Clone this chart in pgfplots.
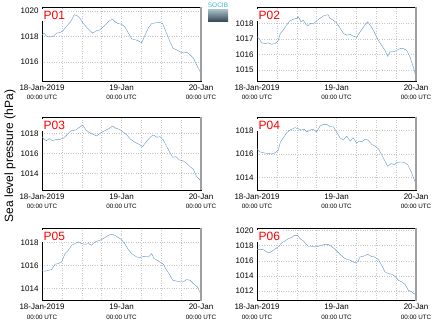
\documentclass[border=0pt]{standalone}
\usepackage{pgfplots}
\pgfplotsset{compat=1.18}
\usepackage{fontspec}
\setmainfont{Liberation Sans}
\definecolor{sl}{RGB}{96,148,198}
\definecolor{socib}{RGB}{60,180,210}
\definecolor{logotop}{RGB}{175,195,205}
\definecolor{logobot}{RGB}{55,75,90}
\pgfplotsset{
  panel/.style={
    scale only axis, width=159pt,
    xmin=0, xmax=48,
    xtick={0,24,48}, minor xtick={6,12,18,30,36,42},
    xticklabels={18-Jan-2019\\{\fontsize{6.3}{7}\selectfont 00:00 UTC},
                 19-Jan\\{\fontsize{6.3}{7}\selectfont 00:00 UTC},
                 20-Jan\\{\fontsize{6.3}{7}\selectfont 00:00 UTC}},
    xticklabel style={align=center, font=\fontsize{8}{9.5}\selectfont},
    yticklabel style={font=\fontsize{8}{9}\selectfont, /pgf/number format/1000 sep={}},
    /pgf/number format/assume math mode=true,
    xmajorgrids, xminorgrids, ymajorgrids,
    grid style={dotted, gray!45, line width=0.5pt},
    minor grid style={dotted, gray!45, line width=0.5pt},
    tick style={draw=none},
    axis line style={black, line width=0.8pt},
    cycle list={{sl, line width=1pt, mark=none}},
    after end axis/.code={\draw[gray!75, line width=1.6pt] (rel axis cs:1,0) -- (rel axis cs:1,1);},
    anchor=north west,
  }
}
\tikzset{plabel/.style={anchor=north west, fill=white, inner sep=1.5pt, text=red, font=\fontsize{12}{12}\selectfont, yshift=-2pt}}
\begin{document}
\begin{tikzpicture}
\useasboundingbox (0,0) rectangle (435pt,-327pt);
% P01
\begin{axis}[panel, at={(42pt,-7pt)}, height=74pt, ymin=1014.5, ymax=1020.3, ytick={1016,1018,1020}]
\addplot coordinates {(0,1018.1)(0.6,1018.25)(1.4,1018.0)(2.4,1017.95)(3.4,1018.0)(4.4,1018.25)(5.4,1018.3)(6.4,1018.45)(7.4,1018.8)(8.5,1019.1)(9.0,1019.3)(9.7,1019.7)(10.7,1019.6)(11.5,1019.4)(12.5,1019.0)(13.7,1018.65)(15.3,1018.25)(16.5,1018.45)(17.5,1018.5)(18.5,1018.75)(19.5,1019.0)(20.5,1019.25)(21.3,1019.35)(22.0,1019.15)(23.0,1019.0)(24.0,1018.95)(25.0,1018.75)(26.1,1018.25)(27.1,1017.8)(28.6,1017.7)(30.1,1017.5)(31.1,1018.1)(32.1,1018.65)(33.1,1019.0)(34.1,1019.05)(35.4,1019.1)(36.4,1019.0)(37.6,1018.25)(38.6,1017.6)(39.6,1017.05)(40.6,1016.95)(41.6,1016.8)(42.7,1016.7)(43.7,1016.75)(44.7,1016.55)(45.7,1016.3)(46.7,1015.75)(47.7,1015.25)(48,1015.0)};
\node[plabel] at (rel axis cs:0,1) {P01};
\end{axis}
% P02
\begin{axis}[panel, at={(257pt,-7pt)}, height=74pt, ymin=1014.3, ymax=1019.05, ytick={1015,1016,1017,1018}]
\addplot coordinates {(0,1017.14)(0.6,1017.03)(1.4,1016.75)(2.4,1016.7)(3.4,1016.75)(4.4,1016.66)(5.4,1016.7)(6.4,1016.88)(7.0,1017.35)(7.95,1017.57)(8.96,1017.9)(9.96,1018.17)(10.97,1018.26)(11.97,1018.32)(12.48,1018.43)(13.28,1018.1)(13.99,1018.2)(14.69,1017.96)(15.3,1017.83)(16.0,1018.0)(17.0,1017.96)(18.0,1018.17)(19.0,1018.32)(20.0,1018.47)(21.0,1018.54)(21.5,1018.54)(22.0,1018.32)(23.0,1018.2)(24.0,1018.04)(25.1,1017.68)(26.1,1017.35)(27.1,1017.24)(28.1,1017.3)(29.1,1017.18)(30.1,1017.1)(30.8,1017.35)(31.6,1017.6)(32.6,1017.9)(33.4,1018.1)(34.1,1017.9)(34.8,1017.68)(35.6,1017.35)(36.6,1016.92)(37.6,1016.6)(38.6,1016.27)(39.45,1015.88)(40.15,1016.17)(41.16,1016.17)(42.16,1016.27)(43.17,1016.38)(44.18,1016.38)(45.18,1016.27)(46.19,1015.84)(47.19,1015.2)(48,1014.55)};
\node[plabel] at (rel axis cs:0,1) {P02};
\end{axis}
% P03
\begin{axis}[panel, at={(42pt,-117pt)}, height=73pt, ymin=1012.33, ymax=1019.63, ytick={1014,1016,1018}]
\addplot coordinates {(0,1017.67)(0.6,1017.4)(1.4,1017.27)(2.2,1017.47)(3.2,1017.27)(4.4,1017.4)(5.4,1017.4)(6.4,1017.5)(7.0,1017.67)(7.95,1018.0)(8.96,1018.27)(10.26,1018.33)(11.27,1018.6)(12.28,1018.83)(13.28,1018.33)(14.29,1018.07)(15.3,1017.93)(16.5,1017.73)(17.5,1018.0)(19.0,1018.27)(20.33,1018.5)(21.33,1018.73)(22.34,1018.5)(23.35,1018.4)(24.35,1018.17)(25.56,1017.83)(26.77,1017.4)(28.08,1017.1)(29.08,1016.93)(30.39,1016.67)(31.09,1017.0)(32.1,1017.4)(33.11,1017.73)(33.81,1017.83)(34.62,1017.6)(35.62,1017.67)(36.63,1017.33)(37.64,1016.67)(38.64,1016.07)(39.45,1015.6)(40.45,1015.67)(41.46,1015.33)(42.47,1015.27)(43.67,1015.0)(44.68,1014.67)(45.69,1014.4)(46.69,1013.67)(47.7,1013.33)(48,1013.07)};
\node[plabel] at (rel axis cs:0,1) {P03};
\end{axis}
% P04
\begin{axis}[panel, at={(257pt,-117pt)}, height=73pt, ymin=1012.92, ymax=1019.14, ytick={1014,1016,1018}]
\addplot coordinates {(0,1016.43)(0.91,1016.17)(1.91,1016.09)(3.22,1016.03)(4.43,1016.0)(5.43,1016.09)(6.44,1016.31)(7.04,1017.0)(7.95,1017.37)(8.96,1017.8)(9.96,1018.03)(11.47,1018.23)(12.48,1018.14)(13.28,1018.03)(14.29,1018.09)(14.99,1017.86)(16.0,1018.03)(17.01,1018.09)(18.01,1017.86)(19.02,1018.37)(20.03,1018.51)(21.03,1018.51)(22.04,1018.31)(23.04,1018.31)(24.05,1017.86)(25.06,1017.37)(26.06,1017.17)(27.07,1017.51)(28.08,1017.09)(29.08,1017.37)(30.09,1016.89)(30.79,1017.09)(31.6,1017.03)(32.6,1017.23)(33.61,1017.17)(34.62,1016.8)(35.62,1016.66)(36.63,1016.43)(37.64,1015.94)(38.64,1015.37)(39.45,1014.94)(40.45,1015.17)(41.46,1015.09)(42.47,1015.29)(43.67,1015.31)(44.68,1015.23)(45.48,1015.09)(46.49,1014.51)(47.5,1013.8)(48,1013.37)};
\node[plabel] at (rel axis cs:0,1) {P04};
\end{axis}
% P05
\begin{axis}[panel, at={(42pt,-228pt)}, height=72.5pt, ymin=1012.97, ymax=1019.23, ytick={1014,1016,1018}]
\addplot coordinates {(0,1015.53)(0.91,1015.5)(1.91,1015.58)(2.92,1015.64)(3.92,1016.1)(4.93,1016.16)(5.94,1016.3)(6.94,1017.02)(7.95,1017.31)(8.96,1017.74)(9.96,1017.88)(10.97,1018.03)(11.97,1017.88)(12.98,1017.83)(13.99,1017.88)(14.99,1017.74)(16.0,1018.03)(17.51,1018.17)(19.02,1018.4)(20.03,1018.6)(21.03,1018.69)(22.04,1018.6)(23.04,1018.4)(24.05,1018.23)(25.06,1017.83)(26.06,1017.37)(27.07,1017.02)(28.58,1016.73)(29.58,1016.68)(30.79,1016.79)(32.1,1016.73)(33.11,1017.02)(33.81,1016.59)(35.12,1016.39)(36.63,1016.1)(37.64,1015.58)(38.64,1015.15)(39.45,1014.72)(40.45,1014.66)(41.66,1014.58)(42.67,1014.58)(43.67,1014.78)(44.68,1014.72)(45.69,1014.43)(46.89,1014.14)(48,1013.51)};
\node[plabel] at (rel axis cs:0,1) {P05};
\end{axis}
% P06
\begin{axis}[panel, at={(257pt,-228pt)}, height=72.5pt, ymin=1010.78, ymax=1020.3, ytick={1012,1014,1016,1018,1020}]
\addplot coordinates {(0,1017.46)(0.91,1017.46)(1.91,1017.46)(2.92,1017.16)(3.62,1017.03)(4.63,1017.29)(5.64,1017.6)(6.64,1017.9)(7.45,1018.34)(8.45,1018.6)(9.46,1018.91)(10.47,1019.04)(11.27,1019.34)(12.28,1019.34)(12.98,1018.91)(13.99,1018.6)(14.69,1018.25)(15.5,1017.9)(16.5,1017.9)(17.51,1017.81)(18.52,1017.9)(19.52,1018.03)(20.53,1018.16)(21.53,1018.16)(22.34,1017.9)(23.35,1017.6)(24.35,1017.16)(25.36,1016.72)(26.57,1016.28)(27.57,1016.15)(28.58,1015.98)(29.58,1015.72)(30.39,1015.85)(31.09,1016.5)(32.1,1016.59)(33.41,1016.85)(34.42,1016.59)(35.42,1016.5)(36.63,1016.15)(37.64,1015.41)(38.64,1014.54)(39.65,1014.32)(40.65,1014.23)(41.66,1013.97)(42.67,1013.44)(43.67,1013.22)(44.68,1012.92)(45.69,1012.13)(46.69,1011.91)(47.5,1011.61)(48,1011.91)};
\node[plabel] at (rel axis cs:0,1) {P06};
\end{axis}
% y label
\node[rotate=90, font=\fontsize{12}{12}\selectfont] at (10pt,-156pt) {Sea level pressure (hPa)};
% logo
\node[text=socib, font=\fontsize{6.5}{6.5}\selectfont, inner sep=0pt] at (218pt,-5pt) {SOCIB};
\shade[top color=logotop, bottom color=logobot] (208pt,-9pt) rectangle (228pt,-21pt);
\end{tikzpicture}
\end{document}
